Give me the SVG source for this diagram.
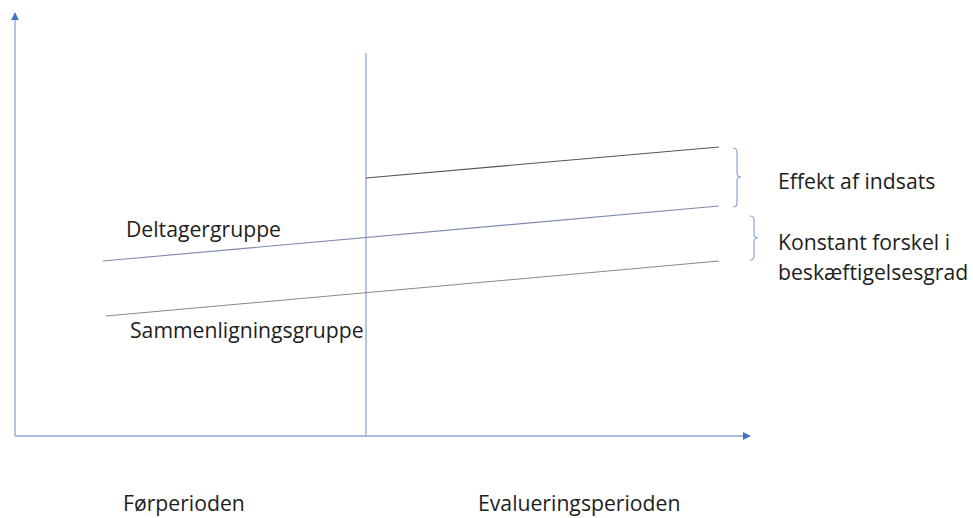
<svg xmlns="http://www.w3.org/2000/svg" width="973" height="518" viewBox="0 0 973 518">
<style>
text{font-family:"Open Sans","Liberation Sans",sans-serif;font-size:21.2px;fill:#1e1e1e}
.ax{stroke:#8ea6d4;stroke-width:1.3;fill:none}
.br{stroke:#8ea6d4;stroke-width:1.2;fill:none}
</style>
<defs>
<marker id="ah" viewBox="0 0 10 10" refX="9" refY="5" markerWidth="8" markerHeight="8" markerUnits="userSpaceOnUse" orient="auto">
<path d="M0,0 L10,5 L0,10 Z" fill="#4472c4"/>
</marker>
</defs>
<rect width="973" height="518" fill="#ffffff"/>
<g id="connectors">
<line class="ax" x1="15" y1="436" x2="15" y2="13" marker-end="url(#ah)"/>
<line class="ax" x1="15" y1="436" x2="750" y2="436" marker-end="url(#ah)"/>
<line class="ax" x1="366" y1="53" x2="366" y2="436"/>
<line x1="366" y1="178" x2="719" y2="147" stroke="#555555" stroke-width="1.1"/>
<line x1="103" y1="261" x2="719" y2="206" stroke="#7d8ab0" stroke-width="1.1"/>
<line x1="106" y1="316" x2="719" y2="261" stroke="#8a8a80" stroke-width="1.1"/>
<path class="br" d="M733,148 Q737,148 737,152 L737,173 Q737,177 741,177 Q737,177 737,181 L737,203 Q737,207 733,207"/>
<path class="br" d="M750,216 Q754,216 754,220 L754,234 Q754,238 758,238 Q754,238 754,242 L754,256 Q754,260 750,260"/>
</g>
<g id="effekt"><text x="778" y="189">Effekt af indsats</text></g>
<g id="konstant"><text x="778" y="250">Konstant forskel i</text><text x="778" y="280">beskæftigelsesgrad</text></g>
<g id="deltager"><text x="126" y="237">Deltagergruppe</text></g>
<g id="sammen"><text x="130" y="338">Sammenligningsgruppe</text></g>
<g id="for"><text x="123" y="511">Førperioden</text></g>
<g id="eval"><text x="478" y="511">Evalueringsperioden</text></g>
</svg>
